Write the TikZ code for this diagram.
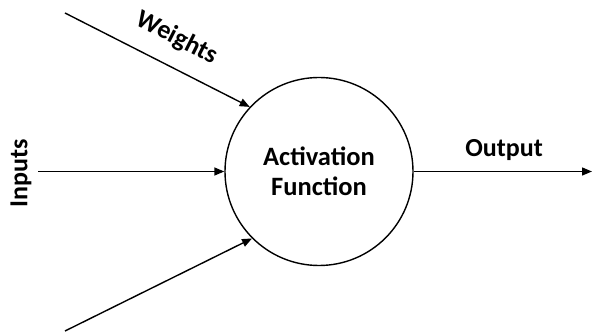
\documentclass[tikz,border=0pt]{standalone}
\usepackage{fontspec}
\setmainfont{Carlito}
\usetikzlibrary{arrows.meta}
\begin{document}
\begin{tikzpicture}[x=1pt,y=1pt,
  wire/.style={line width=1.4pt,-{Triangle[length=10pt,width=8pt]}},
  lbl/.style={font=\bfseries\fontsize{26}{30}\selectfont,inner sep=1pt},
  neuron/.style={circle,draw,line width=1.4pt,minimum size=188pt,inner sep=0pt,align=center,
    font=\bfseries\fontsize{26.5}{30}\selectfont}]
  \useasboundingbox (0,0) rectangle (592,332);
  \node[neuron] (act) at (319,160.5) {Activation\\Function};
  \coordinate (wtop) at (65,319);
  \coordinate (wbot) at (65,1);
  \coordinate (in) at (38,160.5);
  \coordinate (out) at (592,160.5);
  \draw[wire] (wtop) -- (act.137);
  \draw[wire] (wbot) -- (act.225);
  \draw[wire] (in) -- (act.west);
  \draw[wire] (act.east) -- (out);
  \node[lbl,rotate=-27] (wlab) at (177,294) {Weights};
  \node[lbl,rotate=90] (inlab) at (21,159) {Inputs};
  \node[lbl] (outlab) at (504,182) {Output};
\end{tikzpicture}
\end{document}
